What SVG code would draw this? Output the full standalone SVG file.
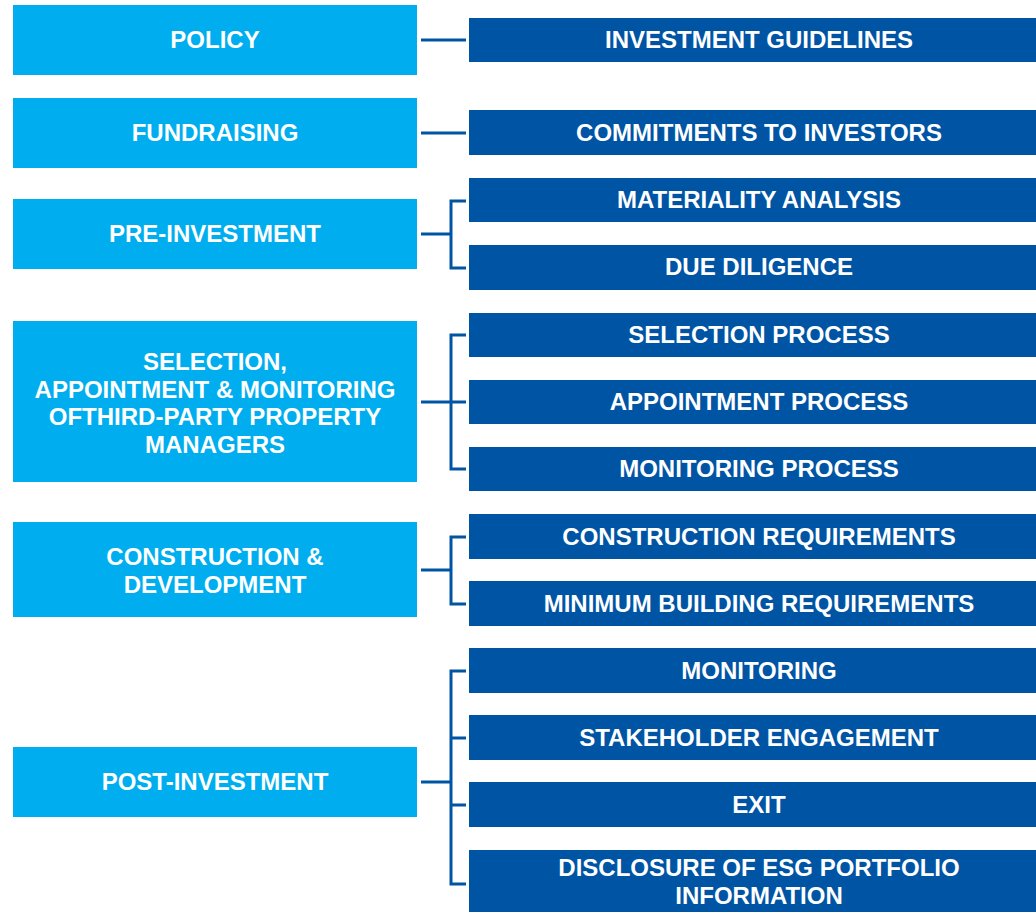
<svg xmlns="http://www.w3.org/2000/svg" width="1036" height="912" viewBox="0 0 1036 912">
<style>
.l{fill:#00AEEF}
.r{fill:#0054A4}
text{font-family:"Liberation Sans",Arial,sans-serif;font-weight:bold;font-size:24px;fill:#fff;text-anchor:middle}
.c{stroke:#0054A4;stroke-width:3;fill:none}
</style>
<rect width="1036" height="912" fill="#fff"/>
<g id="policy"><rect class="l" x="13" y="5" width="404" height="70"/><text x="215" y="48">POLICY</text></g>
<g id="fundraising"><rect class="l" x="13" y="98" width="404" height="70"/><text x="215" y="141">FUNDRAISING</text></g>
<g id="pre-investment"><rect class="l" x="13" y="199" width="404" height="70"/><text x="215" y="242">PRE-INVESTMENT</text></g>
<g id="selection"><rect class="l" x="13" y="321" width="404" height="161"/><text x="215" y="370">SELECTION,</text><text x="215" y="398">APPOINTMENT &amp; MONITORING</text><text x="215" y="425">OFTHIRD-PARTY PROPERTY</text><text x="215" y="453">MANAGERS</text></g>
<g id="construction"><rect class="l" x="13" y="522" width="404" height="95"/><text x="215" y="565">CONSTRUCTION &amp;</text><text x="215" y="593">DEVELOPMENT</text></g>
<g id="post-investment"><rect class="l" x="13" y="747" width="404" height="70"/><text x="215" y="790">POST-INVESTMENT</text></g>

<g id="investment-guidelines"><rect class="r" x="469" y="18" width="567" height="44"/><text x="759" y="48">INVESTMENT GUIDELINES</text></g>
<g id="commitments"><rect class="r" x="469" y="110" width="567" height="45"/><text x="759" y="141">COMMITMENTS TO INVESTORS</text></g>
<g id="materiality"><rect class="r" x="469" y="178" width="567" height="44"/><text x="759" y="208">MATERIALITY ANALYSIS</text></g>
<g id="due-diligence"><rect class="r" x="469" y="245" width="567" height="45"/><text x="759" y="275">DUE DILIGENCE</text></g>
<g id="selection-process"><rect class="r" x="469" y="313" width="567" height="44"/><text x="759" y="343">SELECTION PROCESS</text></g>
<g id="appointment-process"><rect class="r" x="469" y="380" width="567" height="44"/><text x="759" y="410">APPOINTMENT PROCESS</text></g>
<g id="monitoring-process"><rect class="r" x="469" y="447" width="567" height="44"/><text x="759" y="477">MONITORING PROCESS</text></g>
<g id="construction-req"><rect class="r" x="469" y="514" width="567" height="45"/><text x="759" y="545">CONSTRUCTION REQUIREMENTS</text></g>
<g id="min-building"><rect class="r" x="469" y="581" width="567" height="45"/><text x="759" y="612">MINIMUM BUILDING REQUIREMENTS</text></g>
<g id="monitoring"><rect class="r" x="469" y="648" width="567" height="45"/><text x="759" y="679">MONITORING</text></g>
<g id="stakeholder"><rect class="r" x="469" y="715" width="567" height="45"/><text x="759" y="746">STAKEHOLDER ENGAGEMENT</text></g>
<g id="exit"><rect class="r" x="469" y="782" width="567" height="45"/><text x="759" y="813">EXIT</text></g>
<g id="disclosure"><rect class="r" x="469" y="850" width="567" height="62"/><text x="759" y="876">DISCLOSURE OF ESG PORTFOLIO</text><text x="759" y="904">INFORMATION</text></g>

<g id="connectors">
<path class="c" d="M421 40H466"/>
<path class="c" d="M421 133H466"/>
<path class="c" d="M421 234H451M466 201H451V268H466"/>
<path class="c" d="M421 402H451M466 335H451V469H466M451 402H466"/>
<path class="c" d="M421 570H451M466 537H451V604H466"/>
<path class="c" d="M421 782H451M466 671H451V884H466M451 738H466M451 805H466"/>
</g>
</svg>
